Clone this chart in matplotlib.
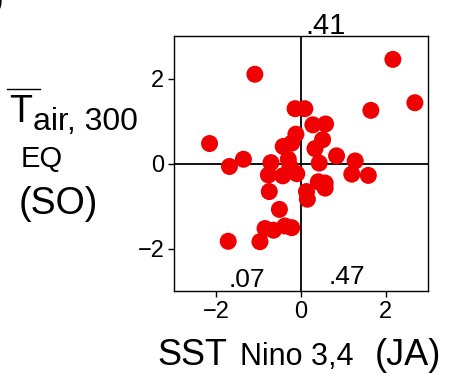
import matplotlib
matplotlib.use('Agg')
import matplotlib.pyplot as plt

plt.rcParams['font.family'] = ['Liberation Sans', 'DejaVu Sans']

# SST Nino 3,4 (JA) vs Tair 300 EQ (SO)
sst = [-1.09, 2.17, 2.69, 1.65, -2.16, -1.36, -1.69, -0.14, 0.09, 0.28,
       0.58, -0.12, 0.51, -0.42, -0.22, 0.33, 0.84, 1.28, 0.43, -0.71,
       -0.30, -0.26, -0.77, -0.43, -0.10, 1.20, 1.59, 0.41, 0.57, 0.57,
       0.13, 0.15, -0.75, -0.51, -0.85, -0.65, -0.38, -0.22, -0.97, -1.72]
tair = [2.10, 2.45, 1.43, 1.25, 0.47, 0.10, -0.07, 1.29, 1.29, 0.91,
        0.93, 0.69, 0.56, 0.40, 0.48, 0.35, 0.18, 0.06, 0.01, 0.02,
        0.10, -0.07, -0.27, -0.29, -0.24, -0.25, -0.28, -0.43, -0.46, -0.58,
        -0.66, -0.84, -0.66, -1.08, -1.53, -1.57, -1.47, -1.51, -1.84, -1.83]
ticks = [-2, 0, 2]

W, H = 450, 376
fig = plt.figure(figsize=(W / 100, H / 100), dpi=100)
ax = fig.add_axes([174 / W, 1 - 291 / H, 254 / W, 255 / H])

ax.scatter(sst, tair, s=150, color='#f00000', edgecolors='none', zorder=3)
ax.axhline(0, color='black', lw=1.3, zorder=1)
ax.axvline(0, color='black', lw=1.3, zorder=1)
ax.set_xlim(-3, 3)
ax.set_ylim(-3, 3)
ax.set_xticks(ticks)
ax.set_yticks(ticks)
ax.set_xticklabels(['\u22122', '0', '2'])
ax.set_yticklabels(['\u22122', '0', '2'])
ax.tick_params(labelsize=17, length=4, width=1, direction='out', pad=3)
for sp in ax.spines.values():
    sp.set_linewidth(1)


def ftext(x, y, s, size, **kw):
    fig.text(x / W, 1 - y / H, s, fontsize=size, va='baseline', ha='left', **kw)


# correlation numbers
ftext(305, 34, '.41', 21)
ftext(229, 287, '.07', 19)
ftext(329, 284, '.47', 19)

# y label
ftext(9, 122, 'T', 27)
fig.add_artist(plt.Line2D([7 / W, 40 / W], [1 - 89 / H, 1 - 89 / H], color='black', lw=1))
ftext(33, 130, 'air, 300', 23)
ftext(21, 167, 'EQ', 21)
ftext(19, 214, '(SO)', 27)

# x label
ftext(157, 365, 'SST', 26)
ftext(240, 365, 'Nino 3,4', 22)
ftext(375, 365, '(JA)', 26)

# clipped panel label
ftext(-6, 8, ')', 20)

fig.savefig('out.png', dpi=100)
